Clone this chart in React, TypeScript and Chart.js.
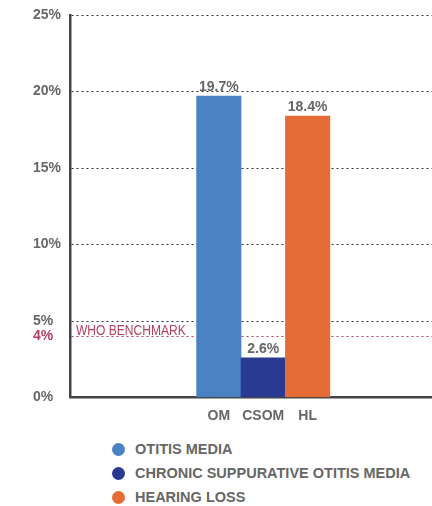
import React, { useEffect, useRef } from "react";
import { Chart, registerables } from "chart.js";
Chart.register(...registerables);

const categories = ["OM", "CSOM", "HL"];
const seriesNames = ["OTITIS MEDIA", "CHRONIC SUPPURATIVE OTITIS MEDIA", "HEARING LOSS"];
const values = [19.7, 2.6, 18.4];
const colors = ["#4A83C4", "#2A3A93", "#E66C35"];
const yTicks = [0, 5, 10, 15, 20, 25];
const benchmarkValue = 4;
const benchmarkLabel = "WHO BENCHMARK";

const GRAY = "#666666";
const RED = "#B4405F";
const FONT = "'Liberation Sans', Arial, sans-serif";

const valueLabels = {
  id: "valueLabels",
  afterDatasetsDraw(chart: any) {
    const { ctx } = chart;
    const meta = chart.getDatasetMeta(0);
    ctx.save();
    ctx.font = `bold 14px ${FONT}`;
    ctx.fillStyle = GRAY;
    ctx.textAlign = "center";
    ctx.textBaseline = "alphabetic";
    meta.data.forEach((bar: any, i: number) => {
      ctx.fillText(`${values[i]}%`, bar.x, bar.y - 5);
    });
    ctx.restore();
  },
};

const benchmarkText = {
  id: "benchmarkText",
  beforeDatasetsDraw(chart: any) {
    const { ctx, chartArea } = chart;
    const y = chart.scales.y.getPixelForValue(benchmarkValue);
    ctx.save();
    ctx.font = `14px ${FONT}`;
    ctx.fillStyle = RED;
    ctx.textAlign = "left";
    ctx.textBaseline = "alphabetic";
    ctx.translate(chartArea.left + 6, y - 1.5);
    ctx.scale(0.86, 1);
    ctx.fillText(benchmarkLabel, 0, 0);
    ctx.restore();
  },
};

export default function App() {
  const ref = useRef<HTMLCanvasElement | null>(null);
  useEffect(() => {
    if (!ref.current) return;
    const chart = new Chart(ref.current, {
      type: "bar",
      data: {
        datasets: [
          {
            data: values.map((v, i) => ({ x: i, y: v })) as any,
            backgroundColor: colors,
            borderWidth: 0,
            barPercentage: 1,
            categoryPercentage: 1,
          },
        ],
      },
      options: {
        responsive: false,
        animation: false,
        layout: { padding: { left: 33, top: 15, right: 0, bottom: 0 } },
        plugins: { legend: { display: false }, tooltip: { enabled: false } },
        scales: {
          x: {
            type: "linear",
            offset: false,
            min: -3.35,
            max: 4.8,
            grid: { display: false, drawTicks: false },
            border: { display: true, color: "#444444", width: 2.5 },
            afterBuildTicks: (s: any) => {
              s.ticks = categories.map((_, i) => ({ value: i }));
            },
            afterFit: (s: any) => {
              s.height = 30.5;
            },
            ticks: {
              callback: (v: any) => categories[v] ?? "",
              color: GRAY,
              font: { family: FONT, size: 14, weight: "bold" },
              padding: 10,
              autoSkip: false,
              maxRotation: 0,
            },
          },
          y: {
            min: 0,
            max: 25,
            afterBuildTicks: (s: any) => {
              s.ticks = [...yTicks, benchmarkValue]
                .sort((a, b) => a - b)
                .map((v) => ({ value: v }));
            },
            afterFit: (s: any) => {
              s.width = 37;
            },
            grid: {
              drawTicks: false,
              lineWidth: 1,
              color: (c: any) =>
                c.tick && c.tick.value === 0
                  ? "rgba(0,0,0,0)"
                  : c.tick && c.tick.value === benchmarkValue
                  ? RED
                  : "#333333",
            },
            border: { color: "#444444", width: 2.5, dash: [2, 3] },
            ticks: {
              callback: (v: any) => `${v}%`,
              color: (c: any) => (c.tick && c.tick.value === benchmarkValue ? RED : GRAY),
              font: { family: FONT, size: 14, weight: "bold", lineHeight: 1 },
              crossAlign: "far",
              autoSkip: false,
            },
          },
        },
      } as any,
      plugins: [benchmarkText, valueLabels],
    });
    return () => chart.destroy();
  }, []);

  return (
    <div
      style={{
        position: "fixed",
        left: 0,
        top: 0,
        width: 432,
        height: 506,
        overflow: "hidden",
        background: "#ffffff",
      }}
    >
      <canvas
        ref={ref}
        width={432}
        height={428}
        style={{ position: "absolute", left: 0, top: 0, display: "block" }}
      />
      <div style={{ position: "absolute", left: 111.5, top: 437 }}>
        {seriesNames.map((name, i) => (
          <div key={name} style={{ display: "flex", alignItems: "center", height: 24 }}>
            <span
              style={{
                width: 13,
                height: 13,
                borderRadius: "50%",
                background: colors[i],
                display: "inline-block",
              }}
            />
            <span
              style={{
                marginLeft: 10.5,
                font: `bold 14.5px ${FONT}`,
                color: GRAY,
                whiteSpace: "nowrap",
              }}
            >
              {name}
            </span>
          </div>
        ))}
      </div>
    </div>
  );
}
